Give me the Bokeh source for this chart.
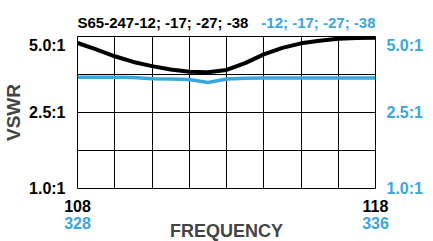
from bokeh.plotting import figure
from bokeh.models import LinearAxis, FixedTicker, Range1d, Grid
from bokeh.layouts import column
from bokeh.core.properties import value
from bokeh.embed import file_html
from bokeh.resources import INLINE

# --- data (y in chart grid units: 0 = 1.0:1, 2 = 2.5:1, 4 = 5.0:1) ---
freq_vhf = [108, 108.625, 109.25, 109.875, 110.5, 111.125, 111.75, 112.375, 113,
            113.625, 114.25, 114.875, 115.5, 116.125, 116.75, 117.375, 118]
vswr_black = [3.83, 3.66, 3.48, 3.33, 3.22, 3.13, 3.07, 3.06, 3.12,
              3.30, 3.53, 3.70, 3.82, 3.89, 3.94, 3.96, 3.97]
vswr_blue = [2.93, 2.93, 2.93, 2.92, 2.89, 2.88, 2.87, 2.79, 2.88,
             2.90, 2.91, 2.91, 2.91, 2.91, 2.91, 2.91, 2.91]
vhf_range = [108, 118]
uhf_range = [328, 336]
y_range = [0, 4]
y_tick_pos = [0, 2, 4]
y_tick_labels = ["1.0:1", "2.5:1", "5.0:1"]
x_grid = [108, 109.25, 110.5, 111.75, 113, 114.25, 115.5, 116.75, 118]
y_grid = [0, 1, 2, 3, 4]
title_black = "S65-247-12; -17; -27; -38"
title_blue = "-12; -17; -27; -38"

BLUE = "#3AA6E0"
FONT = "Liberation Sans"
W = 425
LB, RB = 72, 49
TOP_H = 36

shared_x = Range1d(*vhf_range)

# --- title strip (same horizontal frame as the chart) ---
t = figure(width=W, height=TOP_H, x_range=shared_x, y_range=Range1d(0, TOP_H),
           output_backend="svg", toolbar_location=None,
           x_axis_location=None, y_axis_location=None,
           min_border_left=LB, min_border_right=RB, min_border_top=0, min_border_bottom=0)
t.outline_line_color = None
t.grid.visible = False
t.text(x=[vhf_range[0]], y=[14], text=[title_black], text_font=value(FONT),
       text_font_style="bold", text_font_size="15px", text_color="black",
       text_align="left", text_baseline="middle")
t.text(x=[vhf_range[1]], y=[14], text=[title_blue], text_font=value(FONT),
       text_font_style="bold", text_font_size="15px", text_color=BLUE,
       text_align="right", text_baseline="middle")

# --- main chart ---
p = figure(width=W, height=212, x_range=shared_x, y_range=Range1d(*y_range),
           output_backend="svg", toolbar_location=None,
           x_axis_location=None, y_axis_location=None,
           min_border_left=LB, min_border_right=RB,
           min_border_top=0, min_border_bottom=60)
p.extra_x_ranges = {"uhf": Range1d(*uhf_range)}
p.outline_line_color = "black"
p.outline_line_width = 1
p.grid.visible = False

p.add_layout(Grid(dimension=0, ticker=FixedTicker(ticks=x_grid),
                  grid_line_color="black", grid_line_width=1))
p.add_layout(Grid(dimension=1, ticker=FixedTicker(ticks=y_grid),
                  grid_line_color="black", grid_line_width=1))

overrides = {tk: lb for tk, lb in zip(y_tick_pos, y_tick_labels)}


def style_axis(ax, color, standoff, size="16px"):
    ax.axis_line_color = None
    ax.major_tick_line_color = None
    ax.minor_tick_line_color = None
    ax.major_tick_in = 0
    ax.major_tick_out = 0
    ax.major_label_standoff = standoff
    ax.major_label_text_font = FONT
    ax.major_label_text_font_style = "bold"
    ax.major_label_text_font_size = size
    ax.major_label_text_color = color


left = LinearAxis(ticker=FixedTicker(ticks=y_tick_pos), major_label_overrides=overrides,
                  axis_label="VSWR")
style_axis(left, "black", 12)
left.axis_label_text_font = FONT
left.axis_label_text_font_style = "bold"
left.axis_label_text_font_size = "19px"
left.axis_label_standoff = 2
p.add_layout(left, "left")

right = LinearAxis(ticker=FixedTicker(ticks=y_tick_pos), major_label_overrides=overrides)
style_axis(right, BLUE, 11)
p.add_layout(right, "right")

bot1 = LinearAxis(ticker=FixedTicker(ticks=vhf_range))
style_axis(bot1, "black", 11)
p.add_layout(bot1, "below")

bot2 = LinearAxis(x_range_name="uhf", ticker=FixedTicker(ticks=uhf_range),
                  axis_label="FREQUENCY")
style_axis(bot2, BLUE, 2)
bot2.axis_label_text_font = FONT
bot2.axis_label_text_font_style = "bold"
bot2.axis_label_text_font_size = "18px"
bot2.axis_label_standoff = -11
p.add_layout(bot2, "below")

p.line(freq_vhf, vswr_black, line_width=4, line_color="black", line_join="round")
p.line(freq_vhf, vswr_blue, line_width=3.5, line_color=BLUE, line_join="round")

layout = column(t, p, spacing=0)
open("out.html", "w").write(file_html(layout, INLINE))
